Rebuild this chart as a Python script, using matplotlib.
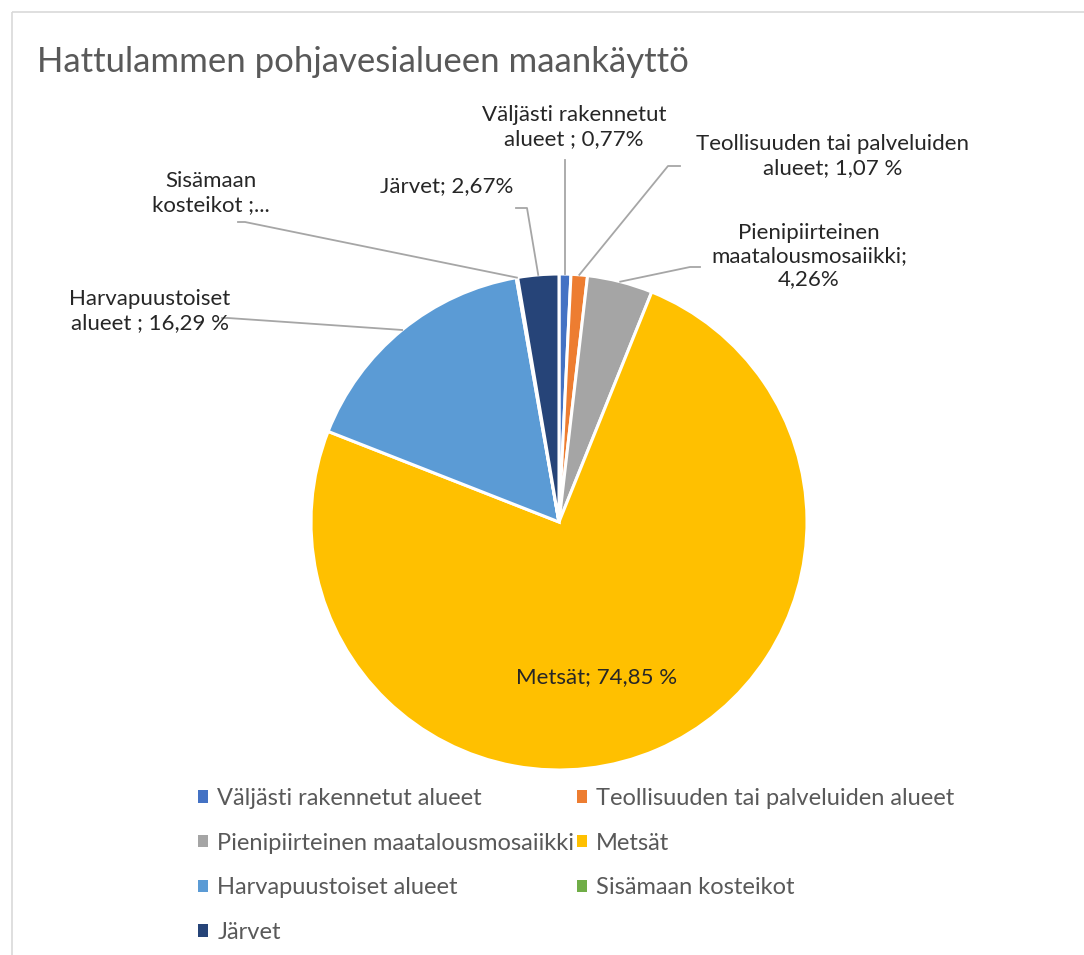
# -*- coding: utf-8 -*-
import numpy as np
import matplotlib
matplotlib.use('Agg')
import matplotlib.pyplot as plt
from matplotlib.patches import Rectangle

plt.rcParams['font.family'] = ['Lato', 'DejaVu Sans']

# Data
luokat = ["Väljästi rakennetut alueet", "Teollisuuden tai palveluiden alueet",
          "Pienipiirteinen maatalousmosaiikki", "Metsät", "Harvapuustoiset alueet",
          "Sisämaan kosteikot", "Järvet"]
osuudet = [0.77, 1.07, 4.26, 74.85, 16.29, 0.09, 2.67]
varit = ["#4472C4", "#ED7D31", "#A5A5A5", "#FFC000", "#5B9BD5", "#70AD47", "#264478"]
otsikot = ["Väljästi rakennetut\nalueet ; 0,77%",
           "Teollisuuden tai palveluiden\nalueet; 1,07 %",
           "Pienipiirteinen\nmaatalousmosaiikki;\n4,26%",
           "Metsät; 74,85 %",
           "Harvapuustoiset\nalueet ; 16,29 %",
           "Sisämaan\nkosteikot ;...",
           "Järvet; 2,67%"]

W, H = 1084, 955
fig = plt.figure(figsize=(W / 100, H / 100), dpi=100)

# piirakan keskipiste ja säde pikseleinä
cx, cy, R = 559, 522, 248
ax = fig.add_axes([(cx - R) / W, 1 - (cy + R) / H, 2 * R / W, 2 * R / H])
wedges, _ = ax.pie(osuudet, colors=varit, startangle=90, counterclock=False,
                   wedgeprops=dict(edgecolor='white', linewidth=2.2))
ax.set_xlim(-1, 1)
ax.set_ylim(-1, 1)
ax.set_aspect('equal')

# päällyskerros pikselikoordinaateissa
ov = fig.add_axes([0, 0, 1, 1], zorder=5)
ov.set_xlim(0, W)
ov.set_ylim(H, 0)
ov.axis('off')
ov.patch.set_alpha(0)

# kaavion reunus
ov.add_patch(Rectangle((12, 12), W, H, fill=False, edgecolor='#D9D9D9', linewidth=1.2))

ov.text(37, 62, "Hattulammen pohjavesialueen maankäyttö", fontsize=25,
        color='#595959', va='center', ha='left')

# sektorien keskikulmat
cum = np.cumsum([0] + osuudet[:-1])
mid = [90 - (c + v / 2) / sum(osuudet) * 360 for c, v in zip(cum, osuudet)]

# otsikoiden paikat ja johtoviivojen taitteet
label_pos = [(574, 127), (833, 156), (809, 256), (597, 677), (150, 311), (211, 193), (447, 186)]
bends = [None, (668, 166, 680), (690, 267, 700), None, (228, 318, 222), (245, 222, 238), (527, 208, 516)]

lc = '#A6A6A6'
for i, txt in enumerate(otsikot):
    lx, ly = label_pos[i]
    ov.text(lx, ly, txt, fontsize=16, color='#262626', ha='center', va='center',
            linespacing=1.2)
    if i == 3:
        continue
    a = np.radians(mid[i])
    sx, sy = cx + R * np.cos(a), cy - R * np.sin(a)
    if i == 0:
        ov.plot([sx, sx], [sy, 160], color=lc, lw=1.3)
    else:
        bx, by, ex = bends[i]
        ov.plot([sx, bx, ex], [sy, by, by], color=lc, lw=1.3)

# selite, rivit järjestyksessä kahdessa sarakkeessa
order = [0, 2, 4, 6, 1, 3, 5]
leg = fig.legend([wedges[k] for k in order], [luokat[k] for k in order],
                 ncol=2, loc='upper left', bbox_to_anchor=(198 / W, 1 - 788 / H),
                 frameon=False, fontsize=17, labelcolor='#595959',
                 handlelength=0.42, handleheight=0.42, handletextpad=0.4,
                 columnspacing=0.1, labelspacing=1.0, borderpad=0, borderaxespad=0)
for h in leg.legend_handles:
    h.set_edgecolor('none')

fig.savefig('out.png', dpi=100)
